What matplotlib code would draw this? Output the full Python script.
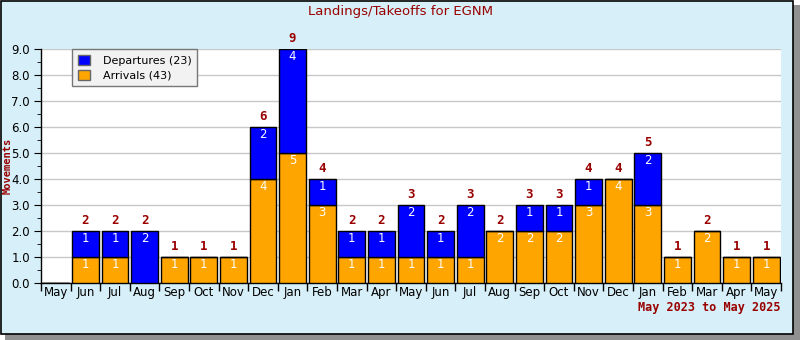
import matplotlib
matplotlib.use("Agg")
import matplotlib.pyplot as plt
from matplotlib.patches import Rectangle, Patch
from matplotlib.ticker import MultipleLocator
import numpy as np

months = ["May", "Jun", "Jul", "Aug", "Sep", "Oct", "Nov", "Dec", "Jan", "Feb", "Mar", "Apr",
          "May", "Jun", "Jul", "Aug", "Sep", "Oct", "Nov", "Dec", "Jan", "Feb", "Mar", "Apr", "May"]
arrivals = [0, 1, 1, 0, 1, 1, 1, 4, 5, 3, 1, 1, 1, 1, 1, 2, 2, 2, 3, 4, 3, 1, 2, 1, 1]
departures = [0, 1, 1, 2, 0, 0, 0, 2, 4, 1, 1, 1, 2, 1, 2, 0, 1, 1, 1, 0, 2, 0, 0, 0, 0]

title = "Landings/Takeoffs for EGNM"
ylabel = "Movements"
period = "May 2023 to May 2025"

W, H = 800, 340
fig = plt.figure(figsize=(W / 100, H / 100), dpi=100)
fig.patch.set_facecolor("white")
bg = "#d7eff8"
dark_red = "#990000"

# shadow and frame
fig.patches.append(Rectangle((5 / W, 0), (W - 5) / W, (H - 5) / H, transform=fig.transFigure,
                             facecolor="#909090", edgecolor="none", zorder=-3))
fig.patches.append(Rectangle((1 / W, 6 / H), (W - 8) / W, (H - 7) / H, transform=fig.transFigure,
                             facecolor=bg, edgecolor="black", linewidth=1.2, zorder=-2))

left, right, top, bottom = 41, 781, 49, 283
ax = fig.add_axes([left / W, 1 - bottom / H, (right - left) / W, (bottom - top) / H])
ax.set_facecolor("white")

x = np.arange(len(months))
arr = np.array(arrivals)
dep = np.array(departures)
bw = 0.9
ax.bar(x, arr, width=bw, color="orange", edgecolor="black", linewidth=1.0, zorder=3)
ax.bar(x, dep, bottom=arr, width=bw, color="#0000ff", edgecolor="black", linewidth=1.0, zorder=3)

for i in range(len(x)):
    a, d = arr[i], dep[i]
    if a > 0:
        ax.text(x[i], a - 0.05, str(a), ha="center", va="top", color="white", fontsize=8.5, zorder=4)
    if d > 0:
        ax.text(x[i], a + d - 0.05, str(d), ha="center", va="top", color="white", fontsize=8.5, zorder=4)
    tot = a + d
    if tot > 0:
        ax.text(x[i], tot + 0.17, str(tot), ha="center", va="bottom", color=dark_red,
                fontsize=9, fontweight="bold", family="DejaVu Sans Mono", zorder=4)

ax.set_xlim(-0.5, len(x) - 0.5)
ax.set_ylim(0, 9)
ax.yaxis.set_major_locator(MultipleLocator(1))
ax.yaxis.set_minor_locator(MultipleLocator(0.5))
ax.set_yticklabels([f"{v:.1f}" for v in ax.get_yticks()])
ax.grid(axis="y", which="major", color="#c8c8c8", linewidth=1, zorder=0)
ax.set_axisbelow(True)

ax.set_xticks(np.arange(len(x) + 1) - 0.5)
ax.set_xticklabels([])
ax.set_xticks(x, minor=True)
ax.set_xticklabels(months, minor=True, fontsize=8.5)
ax.tick_params(axis="x", which="minor", length=0, pad=2)
ax.tick_params(axis="x", which="major", length=6, width=1, direction="out")
ax.tick_params(axis="y", which="major", length=5, pad=3, labelsize=8.5)
ax.tick_params(axis="y", which="minor", length=3)

for s in ["top", "right"]:
    ax.spines[s].set_visible(False)
ax.spines["left"].set_linewidth(1)
ax.spines["bottom"].set_linewidth(1)

ax.set_ylabel(ylabel, color=dark_red, fontsize=7.5, fontweight="bold", family="DejaVu Sans Mono")
ax.yaxis.set_label_coords((13 - left) / (right - left), 0.5)
fig.text(400 / W, 1 - 12 / H, title, ha="center", va="center", color=dark_red, fontsize=9.5)
fig.text(780 / W, 1 - 307 / H, period, ha="right", va="center", color=dark_red,
         fontsize=8.5, fontweight="bold", family="DejaVu Sans Mono")

handles = [Patch(facecolor="#0000ff", edgecolor="#666666", label=f"Departures ({sum(departures)})"),
           Patch(facecolor="orange", edgecolor="#666666", label=f"Arrivals ({sum(arrivals)})")]
leg = ax.legend(handles=handles, loc="upper left", bbox_to_anchor=((72 - left) / (right - left), 1.0),
                borderaxespad=0, fontsize=8,
                frameon=True, fancybox=False, edgecolor="#777777", facecolor="#f2f2f2",
                framealpha=1, handlelength=1.1, handleheight=1.1, borderpad=0.5, labelspacing=0.35,
                handletextpad=1.2)
leg.get_frame().set_linewidth(1)
leg.set_zorder(5)

fig.savefig("out.png", dpi=100)
